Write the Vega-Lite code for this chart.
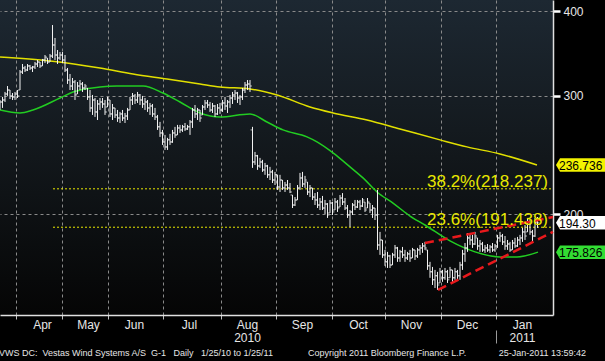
{
  "$schema": "https://vega.github.io/schema/vega-lite/v6.json",
  "width": 553,
  "height": 315,
  "autosize": {"type": "none"},
  "padding": {"left": 0, "top": 0, "right": 52, "bottom": 46},
  "background": "#000000",
  "config": {
    "view": {"stroke": null, "fill": {"gradient": "linear", "x1": 0, "y1": 0, "x2": 0, "y2": 1, "stops": [{"offset": 0, "color": "#1d2832"}, {"offset": 0.5, "color": "#12171b"}, {"offset": 1, "color": "#050505"}]}},
    "font": "Liberation Sans"
  },
  "title": {
    "text": "VWS DC:\u00a0\u00a0Vestas Wind Systems A/S\u00a0\u00a0G-1\u00a0\u00a0\u00a0Daily\u00a0\u00a0\u00a01/25/10 to 1/25/11\u00a0\u00a0\u00a0\u00a0\u00a0\u00a0\u00a0\u00a0\u00a0\u00a0\u00a0\u00a0\u00a0\u00a0Copyright 2011 Bloomberg Finance L.P.\u00a0\u00a0\u00a0\u00a0\u00a0\u00a0\u00a0\u00a0\u00a0\u00a0\u00a0\u00a0\u00a025-Jan-2011 13:59:42",
    "orient": "bottom", "anchor": "start", "fontSize": 9, "font": "Liberation Sans", "fontWeight": "normal", "color": "#e6e6e6", "offset": 5, "dx": 2
  },
  "datasets": {
    "prices": [
{"i":0,"o":287.6,"h":295.5,"l":285.6,"c":293.5},
{"i":1,"o":293.5,"h":298.6,"l":287.6,"c":295.5},
{"i":2,"o":295.5,"h":303.7,"l":293.5,"c":301.6},
{"i":3,"o":301.6,"h":309.9,"l":299.6,"c":305.7},
{"i":4,"o":305.7,"h":305.7,"l":296.5,"c":299.6},
{"i":5,"o":299.6,"h":302.6,"l":295.5,"c":298.6},
{"i":6,"o":298.6,"h":303.7,"l":295.5,"c":301.6},
{"i":7,"o":301.6,"h":305.7,"l":297.5,"c":299.6},
{"i":8,"o":305.7,"h":327.3,"l":305.7,"c":325.1},
{"i":9,"o":325.1,"h":334.1,"l":322.9,"c":329.6},
{"i":10,"o":329.6,"h":331.9,"l":325.1,"c":327.3},
{"i":11,"o":327.3,"h":334.1,"l":326.2,"c":331.9},
{"i":12,"o":331.9,"h":333.0,"l":327.3,"c":329.6},
{"i":13,"o":329.6,"h":331.9,"l":325.1,"c":330.7},
{"i":14,"o":330.7,"h":336.4,"l":328.4,"c":334.1},
{"i":15,"o":334.1,"h":338.7,"l":330.7,"c":336.4},
{"i":16,"o":336.4,"h":336.4,"l":329.6,"c":331.9},
{"i":17,"o":331.9,"h":339.9,"l":331.9,"c":338.7},
{"i":18,"o":338.7,"h":344.5,"l":335.3,"c":342.2},
{"i":19,"o":341.0,"h":341.0,"l":334.1,"c":336.4},
{"i":20,"o":336.4,"h":345.7,"l":336.4,"c":343.3},
{"i":21,"o":343.3,"h":381.6,"l":341.0,"c":356.5},
{"i":22,"o":356.5,"h":365.1,"l":338.7,"c":344.5},
{"i":23,"o":344.5,"h":350.4,"l":334.1,"c":341.0},
{"i":24,"o":341.0,"h":348.0,"l":338.7,"c":344.5},
{"i":25,"o":344.5,"h":348.0,"l":335.3,"c":338.7},
{"i":26,"o":338.7,"h":344.5,"l":325.1,"c":327.3},
{"i":27,"o":327.3,"h":329.6,"l":312.1,"c":316.3},
{"i":28,"o":316.3,"h":322.9,"l":305.7,"c":309.9},
{"i":29,"o":309.9,"h":318.5,"l":305.7,"c":314.2},
{"i":30,"o":314.2,"h":316.3,"l":295.5,"c":300.6},
{"i":31,"o":301.6,"h":314.2,"l":301.6,"c":309.9},
{"i":32,"o":309.9,"h":316.3,"l":305.7,"c":312.1},
{"i":33,"o":312.1,"h":314.2,"l":303.7,"c":307.8},
{"i":34,"o":307.8,"h":312.1,"l":305.7,"c":309.9},
{"i":35,"o":307.8,"h":307.8,"l":295.5,"c":298.6},
{"i":36,"o":298.6,"h":305.7,"l":283.7,"c":287.6},
{"i":37,"o":287.6,"h":300.6,"l":280.8,"c":295.5},
{"i":38,"o":295.5,"h":297.5,"l":278.9,"c":283.7},
{"i":39,"o":283.7,"h":295.5,"l":276.0,"c":291.5},
{"i":40,"o":291.5,"h":297.5,"l":285.6,"c":293.5},
{"i":41,"o":293.5,"h":297.5,"l":287.6,"c":291.5},
{"i":42,"o":291.5,"h":295.5,"l":280.8,"c":283.7},
{"i":43,"o":288.5,"h":298.6,"l":288.5,"c":295.5},
{"i":44,"o":295.5,"h":295.5,"l":278.9,"c":281.8},
{"i":45,"o":281.8,"h":291.5,"l":276.0,"c":287.6},
{"i":46,"o":287.6,"h":287.6,"l":277.9,"c":280.8},
{"i":47,"o":280.8,"h":285.6,"l":274.2,"c":277.9},
{"i":48,"o":277.9,"h":283.7,"l":273.2,"c":281.8},
{"i":49,"o":281.8,"h":285.6,"l":275.1,"c":277.9},
{"i":50,"o":277.9,"h":282.7,"l":273.2,"c":279.8},
{"i":51,"o":279.8,"h":287.6,"l":276.0,"c":285.6},
{"i":52,"o":285.6,"h":298.6,"l":285.6,"c":295.5},
{"i":53,"o":295.5,"h":302.6,"l":290.5,"c":299.6},
{"i":54,"o":299.6,"h":301.6,"l":291.5,"c":295.5},
{"i":55,"o":295.5,"h":303.7,"l":292.5,"c":300.6},
{"i":56,"o":300.6,"h":301.6,"l":290.5,"c":295.5},
{"i":57,"o":295.5,"h":299.6,"l":287.6,"c":291.5},
{"i":58,"o":291.5,"h":297.5,"l":285.6,"c":293.5},
{"i":59,"o":293.5,"h":295.5,"l":283.7,"c":287.6},
{"i":60,"o":287.6,"h":292.5,"l":280.8,"c":289.5},
{"i":61,"o":289.5,"h":291.5,"l":278.9,"c":281.8},
{"i":62,"o":281.8,"h":287.6,"l":276.0,"c":278.9},
{"i":63,"o":278.9,"h":280.8,"l":266.8,"c":269.6},
{"i":64,"o":269.6,"h":274.2,"l":260.5,"c":264.1},
{"i":65,"o":264.1,"h":266.8,"l":253.5,"c":256.1},
{"i":66,"o":256.1,"h":262.3,"l":249.2,"c":251.8},
{"i":67,"o":251.8,"h":259.7,"l":249.2,"c":257.9},
{"i":68,"o":257.9,"h":263.2,"l":253.5,"c":256.1},
{"i":69,"o":256.1,"h":266.8,"l":255.3,"c":264.1},
{"i":70,"o":264.1,"h":269.6,"l":259.7,"c":262.3},
{"i":71,"o":262.3,"h":271.4,"l":262.3,"c":268.6},
{"i":72,"o":268.6,"h":271.4,"l":264.1,"c":266.8},
{"i":73,"o":266.8,"h":271.4,"l":265.0,"c":269.6},
{"i":74,"o":269.6,"h":273.2,"l":265.9,"c":267.7},
{"i":75,"o":267.7,"h":271.4,"l":266.8,"c":269.6},
{"i":76,"o":269.6,"h":276.0,"l":262.3,"c":274.2},
{"i":77,"o":274.2,"h":287.6,"l":268.6,"c":285.6},
{"i":78,"o":285.6,"h":290.5,"l":277.9,"c":281.8},
{"i":79,"o":281.8,"h":287.6,"l":276.0,"c":285.6},
{"i":80,"o":285.6,"h":285.6,"l":274.2,"c":277.9},
{"i":81,"o":280.8,"h":290.5,"l":280.8,"c":288.5},
{"i":82,"o":288.5,"h":295.5,"l":285.6,"c":292.5},
{"i":83,"o":292.5,"h":295.5,"l":287.6,"c":290.5},
{"i":84,"o":290.5,"h":293.5,"l":283.7,"c":285.6},
{"i":85,"o":285.6,"h":292.5,"l":282.7,"c":289.5},
{"i":86,"o":289.5,"h":290.5,"l":278.9,"c":281.8},
{"i":87,"o":281.8,"h":291.5,"l":280.8,"c":287.6},
{"i":88,"o":287.6,"h":292.5,"l":281.8,"c":285.6},
{"i":89,"o":285.6,"h":295.5,"l":283.7,"c":292.5},
{"i":90,"o":292.5,"h":298.6,"l":285.6,"c":289.5},
{"i":91,"o":289.5,"h":295.5,"l":282.7,"c":293.5},
{"i":92,"o":293.5,"h":300.6,"l":287.6,"c":297.5},
{"i":93,"o":297.5,"h":303.7,"l":291.5,"c":300.6},
{"i":94,"o":300.6,"h":305.7,"l":295.5,"c":302.6},
{"i":95,"o":302.6,"h":303.7,"l":292.5,"c":297.5},
{"i":96,"o":297.5,"h":300.6,"l":290.5,"c":298.6},
{"i":97,"o":298.6,"h":307.8,"l":295.5,"c":305.7},
{"i":98,"o":305.7,"h":314.2,"l":302.6,"c":311.0},
{"i":99,"o":311.0,"h":316.3,"l":305.7,"c":312.1},
{"i":100,"o":312.1,"h":316.3,"l":303.7,"c":309.9},
{"i":101,"o":266.8,"h":269.6,"l":234.4,"c":239.2},
{"i":102,"o":239.2,"h":247.5,"l":236.8,"c":244.2},
{"i":103,"o":244.2,"h":245.0,"l":232.8,"c":236.0},
{"i":104,"o":236.0,"h":242.5,"l":234.4,"c":239.2},
{"i":105,"o":239.2,"h":240.9,"l":231.2,"c":232.8},
{"i":106,"o":232.8,"h":238.4,"l":228.9,"c":236.0},
{"i":107,"o":236.0,"h":236.8,"l":226.5,"c":228.9},
{"i":108,"o":228.9,"h":235.2,"l":224.9,"c":231.2},
{"i":109,"o":231.2,"h":232.8,"l":222.6,"c":224.9},
{"i":110,"o":224.9,"h":231.2,"l":221.1,"c":228.9},
{"i":111,"o":228.9,"h":228.9,"l":217.4,"c":219.6},
{"i":112,"o":219.6,"h":228.9,"l":215.9,"c":224.9},
{"i":113,"o":224.9,"h":224.9,"l":217.4,"c":218.9},
{"i":114,"o":218.9,"h":223.4,"l":215.9,"c":221.1},
{"i":115,"o":221.1,"h":224.9,"l":217.4,"c":218.9},
{"i":116,"o":218.9,"h":222.6,"l":215.1,"c":215.9},
{"i":117,"o":213.7,"h":213.7,"l":204.4,"c":206.5},
{"i":118,"o":206.5,"h":212.2,"l":205.8,"c":210.1},
{"i":119,"o":210.1,"h":221.1,"l":210.1,"c":218.9},
{"i":120,"o":218.9,"h":230.4,"l":217.4,"c":226.5},
{"i":121,"o":226.5,"h":231.2,"l":219.6,"c":221.9},
{"i":122,"o":221.9,"h":228.1,"l":218.9,"c":224.9},
{"i":123,"o":223.4,"h":223.4,"l":213.7,"c":215.9},
{"i":124,"o":215.9,"h":221.1,"l":212.2,"c":218.9},
{"i":125,"o":218.9,"h":218.9,"l":210.1,"c":212.2},
{"i":126,"o":212.2,"h":215.1,"l":206.5,"c":210.1},
{"i":127,"o":210.1,"h":215.9,"l":204.4,"c":206.5},
{"i":128,"o":206.5,"h":211.5,"l":203.0,"c":208.7},
{"i":129,"o":208.7,"h":213.0,"l":203.0,"c":204.4},
{"i":130,"o":204.4,"h":210.1,"l":200.3,"c":207.2},
{"i":131,"o":207.2,"h":207.9,"l":197.6,"c":199.6},
{"i":132,"o":201.0,"h":210.1,"l":201.0,"c":207.9},
{"i":133,"o":207.9,"h":208.7,"l":199.6,"c":201.7},
{"i":134,"o":203.0,"h":211.5,"l":203.0,"c":208.7},
{"i":135,"o":208.7,"h":210.1,"l":201.7,"c":204.4},
{"i":136,"o":205.1,"h":213.7,"l":205.1,"c":211.5},
{"i":137,"o":211.5,"h":215.1,"l":206.5,"c":208.7},
{"i":138,"o":208.7,"h":211.5,"l":203.0,"c":204.4},
{"i":139,"o":204.4,"h":206.5,"l":197.6,"c":199.6},
{"i":140,"o":199.6,"h":203.0,"l":191.6,"c":201.7},
{"i":141,"o":201.7,"h":207.9,"l":199.6,"c":206.5},
{"i":142,"o":206.5,"h":210.1,"l":203.0,"c":205.1},
{"i":143,"o":205.1,"h":210.1,"l":204.4,"c":208.7},
{"i":144,"o":208.7,"h":210.1,"l":203.0,"c":205.8},
{"i":145,"o":205.8,"h":211.5,"l":205.1,"c":210.1},
{"i":146,"o":208.7,"h":208.7,"l":201.7,"c":203.0},
{"i":147,"o":204.4,"h":211.5,"l":204.4,"c":208.7},
{"i":148,"o":207.9,"h":207.9,"l":201.0,"c":203.0},
{"i":149,"o":203.0,"h":206.5,"l":197.6,"c":204.4},
{"i":150,"o":204.4,"h":204.4,"l":196.2,"c":199.6},
{"i":151,"o":199.6,"h":217.4,"l":177.2,"c":180.2},
{"i":152,"o":180.2,"h":188.4,"l":174.2,"c":183.3},
{"i":153,"o":183.3,"h":183.3,"l":172.4,"c":174.2},
{"i":154,"o":174.2,"h":177.2,"l":167.8,"c":170.1},
{"i":155,"o":170.1,"h":176.0,"l":166.6,"c":173.6},
{"i":156,"o":173.6,"h":174.2,"l":166.6,"c":168.3},
{"i":157,"o":168.3,"h":175.4,"l":168.3,"c":174.2},
{"i":158,"o":174.2,"h":180.2,"l":172.4,"c":178.4},
{"i":159,"o":178.4,"h":179.0,"l":170.1,"c":172.4},
{"i":160,"o":172.4,"h":177.2,"l":170.1,"c":176.0},
{"i":161,"o":176.0,"h":179.0,"l":172.4,"c":174.2},
{"i":162,"o":174.2,"h":177.2,"l":170.1,"c":172.4},
{"i":163,"o":172.4,"h":176.0,"l":171.2,"c":174.8},
{"i":164,"o":174.8,"h":177.2,"l":170.1,"c":172.4},
{"i":165,"o":172.4,"h":178.4,"l":172.4,"c":177.2},
{"i":166,"o":177.2,"h":177.2,"l":171.2,"c":173.6},
{"i":167,"o":173.6,"h":178.4,"l":172.4,"c":177.2},
{"i":168,"o":177.2,"h":180.2,"l":174.2,"c":178.4},
{"i":169,"o":178.4,"h":181.4,"l":175.4,"c":179.6},
{"i":170,"o":179.6,"h":182.1,"l":177.2,"c":178.4},
{"i":171,"o":177.2,"h":177.2,"l":165.5,"c":167.8},
{"i":172,"o":167.8,"h":170.1,"l":161.1,"c":164.4},
{"i":173,"o":164.4,"h":167.2,"l":157.2,"c":160.0},
{"i":174,"o":160.0,"h":165.5,"l":155.6,"c":162.2},
{"i":175,"o":162.2,"h":164.4,"l":154.6,"c":157.2},
{"i":176,"o":158.3,"h":166.6,"l":158.3,"c":164.4},
{"i":177,"o":164.4,"h":165.5,"l":158.9,"c":161.1},
{"i":178,"o":161.1,"h":166.6,"l":160.0,"c":164.4},
{"i":179,"o":164.4,"h":165.5,"l":158.3,"c":160.0},
{"i":180,"o":161.1,"h":167.2,"l":161.1,"c":165.5},
{"i":181,"o":165.5,"h":165.5,"l":158.9,"c":161.1},
{"i":182,"o":161.1,"h":166.6,"l":160.0,"c":164.4},
{"i":183,"o":164.4,"h":165.5,"l":160.0,"c":162.2},
{"i":184,"o":162.2,"h":170.1,"l":160.0,"c":168.3},
{"i":185,"o":168.3,"h":177.2,"l":165.5,"c":174.8},
{"i":186,"o":174.8,"h":181.4,"l":170.1,"c":178.4},
{"i":187,"o":178.4,"h":187.7,"l":176.0,"c":184.6},
{"i":188,"o":184.6,"h":187.7,"l":180.2,"c":183.3},
{"i":189,"o":183.3,"h":186.5,"l":178.4,"c":180.8},
{"i":190,"o":180.8,"h":188.4,"l":180.2,"c":185.8},
{"i":191,"o":184.6,"h":184.6,"l":177.2,"c":179.6},
{"i":192,"o":179.6,"h":183.3,"l":176.0,"c":180.8},
{"i":193,"o":180.8,"h":182.1,"l":176.0,"c":177.2},
{"i":194,"o":177.2,"h":180.2,"l":175.4,"c":178.4},
{"i":195,"o":178.4,"h":180.8,"l":176.0,"c":177.2},
{"i":196,"o":177.2,"h":180.2,"l":175.4,"c":179.0},
{"i":197,"o":179.0,"h":181.4,"l":176.0,"c":177.2},
{"i":198,"o":177.2,"h":180.8,"l":176.0,"c":179.6},
{"i":199,"o":179.6,"h":186.5,"l":178.4,"c":184.6},
{"i":200,"o":184.6,"h":188.4,"l":182.1,"c":185.8},
{"i":201,"o":185.8,"h":187.1,"l":180.2,"c":182.1},
{"i":202,"o":182.1,"h":185.8,"l":177.2,"c":179.6},
{"i":203,"o":179.6,"h":183.3,"l":177.2,"c":180.8},
{"i":204,"o":180.8,"h":182.1,"l":176.0,"c":177.2},
{"i":205,"o":177.2,"h":183.3,"l":177.2,"c":181.4},
{"i":206,"o":181.4,"h":184.6,"l":178.4,"c":179.6},
{"i":207,"o":179.6,"h":185.2,"l":179.0,"c":183.3},
{"i":208,"o":183.3,"h":186.5,"l":180.2,"c":184.6},
{"i":209,"o":184.6,"h":191.0,"l":182.1,"c":188.4},
{"i":210,"o":188.4,"h":192.9,"l":183.3,"c":185.8},
{"i":211,"o":188.4,"h":197.6,"l":188.4,"c":194.9},
{"i":212,"o":194.9,"h":196.2,"l":186.5,"c":188.4},
{"i":213,"o":188.4,"h":189.7,"l":182.1,"c":185.8},
{"i":214,"o":185.8,"h":197.6,"l":185.2,"c":194.9},
{"i":215,"o":194.9,"h":198.2,"l":191.0,"c":194.3}
    ],
    "ma200": [
{"i":0,"v":342.2},{"i":20,"v":337.6},{"i":40,"v":329.6},{"i":53.2,"v":322.9},{"i":66.8,"v":317.4},{"i":80,"v":312.0},{"i":88,"v":308.9},{"i":100,"v":306.8},{"i":110.8,"v":300.6},{"i":124,"v":288.5},{"i":133.2,"v":282.7},{"i":146.8,"v":276.0},{"i":160,"v":267.7},{"i":176,"v":257.9},{"i":186.8,"v":251.8},{"i":200,"v":245.8},{"i":214.8,"v":236.736}
    ],
    "ma50": [
{"i":0,"v":285.6},{"i":8,"v":282.7},{"i":13.2,"v":285.6},{"i":24,"v":297.5},{"i":29.2,"v":303.6},{"i":40,"v":308.9},{"i":46.8,"v":309.9},{"i":57.2,"v":309.9},{"i":65.2,"v":302.6},{"i":72,"v":293.5},{"i":80,"v":282.7},{"i":88,"v":278.9},{"i":100,"v":281.8},{"i":106.8,"v":274.1},{"i":113.2,"v":266.8},{"i":122.8,"v":260.5},{"i":126.8,"v":256.1},{"i":133.2,"v":246.7},{"i":140,"v":235.2},{"i":145.2,"v":226.5},{"i":150.8,"v":215.9},{"i":157.2,"v":207.9},{"i":164,"v":198.9},{"i":170,"v":192.9},{"i":180,"v":182.7},{"i":190,"v":176.0},{"i":200,"v":173.0},{"i":206.8,"v":173.0},{"i":215.2,"v":175.826}
    ],
    "channel": [
{"line":"upper","i":170,"v":181.4},{"line":"upper","i":221.2,"v":198.2},{"line":"lower","i":175.2,"v":154.6},{"line":"lower","i":221.2,"v":188.4}
    ],
    "fib": [
{"label":"38.2%(218.237)","v":218.237},{"label":"23.6%(191.438)","v":191.438}
    ],
    "tags": [
{"kind":"MA200","label":"236.736","v":236.736},{"kind":"Last","label":"194.30","v":194.30},{"kind":"MA50","label":"175.826","v":175.826}
    ],
    "yearmark": [{"i": 198.4}]
  },
  "resolve": {"axis": {"x": "independent"}},
  "layer": [
    {
      "layer": [
        {
          "data": {"name": "fib"},
          "mark": {"type": "rule", "color": "#e8e800", "strokeWidth": 1, "strokeDash": [2, 2]},
          "encoding": {
            "x": {"datum": 21.2, "type": "quantitative", "scale": {"domain": [0, 221.2], "nice": false, "zero": false},
              "axis": {
                "values": [6.4, 24.8, 43.2, 65.2, 88.4, 110.4, 132.8, 154, 176.4, 198.4],
                "title": null, "orient": "bottom", "zindex": 0,
                "grid": true, "gridColor": "#8a8a8a", "gridDash": [3, 3], "gridWidth": 1,
                "domain": true, "domainColor": "#e0e0e0", "domainWidth": 1.5,
                "ticks": true, "tickColor": "#c0c0c0", "tickSize": 4, "tickWidth": 1,
                "labelExpr": "datum.value < 10 ? 'Apr' : datum.value < 30 ? 'May' : datum.value < 50 ? 'Jun' : datum.value < 70 ? 'Jul' : datum.value < 90 ? ['Aug','2010'] : datum.value < 120 ? 'Sep' : datum.value < 140 ? 'Oct' : datum.value < 160 ? 'Nov' : datum.value < 180 ? 'Dec' : ['Jan','2011']",
                "labelOffset": 26, "labelAlign": "center", "labelBaseline": "top", "labelPadding": 0,
                "labelFont": "Liberation Sans", "labelFontSize": 12, "labelColor": "#e6e6e6", "labelLineHeight": 13,
                "labelOverlap": false, "labelBound": false, "labelFlush": false
              }
            },
            "x2": {"datum": 221.2},
            "y": {"field": "v", "type": "quantitative", "scale": {"type": "log", "domain": [141.9, 415.6], "nice": false, "zero": false},
              "axis": {
                "values": [200, 300, 400], "orient": "right", "title": null, "zindex": 0,
                "grid": true, "gridColor": "#8a8a8a", "gridDash": [3, 3], "gridWidth": 1,
                "domain": true, "domainColor": "#e0e0e0", "domainWidth": 1.5,
                "ticks": true, "tickColor": "#ffffff", "tickSize": 7, "tickWidth": 2.5,
                "labelPadding": 3, "labelFont": "Liberation Sans", "labelFontSize": 12, "labelColor": "#e6e6e6",
                "labelBaseline": "middle", "labelOverlap": false, "labelBound": false, "labelFlush": false
              }
            }
          }
        },
        {
          "data": {"name": "ma200"},
          "mark": {"type": "line", "color": "#e2e000", "strokeWidth": 1.5, "interpolate": "monotone"},
          "encoding": {"x": {"field": "i", "type": "quantitative"}, "y": {"field": "v", "type": "quantitative"}}
        },
        {
          "data": {"name": "ma50"},
          "mark": {"type": "line", "color": "#22cc22", "strokeWidth": 1.5, "interpolate": "monotone"},
          "encoding": {"x": {"field": "i", "type": "quantitative"}, "y": {"field": "v", "type": "quantitative"}}
        },
        {
          "data": {"name": "prices"},
          "mark": {"type": "rule", "color": "#f2f2f2", "strokeWidth": 1},
          "encoding": {"x": {"field": "i", "type": "quantitative"}, "y": {"field": "l", "type": "quantitative"}, "y2": {"field": "h"}}
        },
        {
          "data": {"name": "prices"},
          "mark": {"type": "tick", "orient": "horizontal", "color": "#f2f2f2", "size": 2, "thickness": 1, "xOffset": -1},
          "encoding": {"x": {"field": "i", "type": "quantitative"}, "y": {"field": "o", "type": "quantitative"}}
        },
        {
          "data": {"name": "prices"},
          "mark": {"type": "tick", "orient": "horizontal", "color": "#f2f2f2", "size": 2, "thickness": 1, "xOffset": 1},
          "encoding": {"x": {"field": "i", "type": "quantitative"}, "y": {"field": "c", "type": "quantitative"}}
        },
        {
          "data": {"name": "channel"},
          "mark": {"type": "line", "color": "#e8191c", "strokeWidth": 2.5, "strokeDash": [9, 5]},
          "encoding": {"x": {"field": "i", "type": "quantitative"}, "y": {"field": "v", "type": "quantitative"}, "detail": {"field": "line"}}
        },
        {
          "data": {"name": "fib"},
          "mark": {"type": "text", "color": "#e8e800", "font": "Liberation Sans", "fontSize": 17, "align": "right", "baseline": "alphabetic", "dy": -2},
          "encoding": {"x": {"datum": 219.2, "type": "quantitative"}, "y": {"field": "v", "type": "quantitative"}, "text": {"field": "label"}}
        },
        {
          "data": {"name": "tags"},
          "mark": {"type": "point", "shape": "M-1,0L-0.84,-0.27L1.2,-0.27L1.2,0.27L-0.84,0.27Z", "size": 2500, "filled": true, "opacity": 1, "strokeWidth": 0},
          "encoding": {
            "x": {"datum": 232.4, "type": "quantitative"},
            "y": {"field": "v", "type": "quantitative"},
            "color": {"field": "kind", "type": "nominal", "scale": {"domain": ["MA200", "Last", "MA50"], "range": ["#f2f200", "#ffffff", "#33dd33"]}, "legend": null}
          }
        },
        {
          "data": {"name": "tags"},
          "mark": {"type": "text", "color": "#000000", "font": "Liberation Sans", "fontSize": 12, "align": "left", "baseline": "middle", "dy": 1},
          "encoding": {"x": {"datum": 223.6, "type": "quantitative"}, "y": {"field": "v", "type": "quantitative"}, "text": {"field": "label"}}
        }
      ]
    },
    {
      "data": {"name": "yearmark"},
      "mark": {"type": "rule", "opacity": 0},
      "encoding": {
        "x": {"field": "i", "type": "quantitative",
          "axis": {"values": [198.4], "orient": "bottom", "offset": 15, "title": null, "grid": false, "domain": false, "labels": false,
            "ticks": true, "tickColor": "#9a9a9a", "tickSize": 13, "tickWidth": 1, "zindex": 0}
        }
      }
    }
  ]
}
